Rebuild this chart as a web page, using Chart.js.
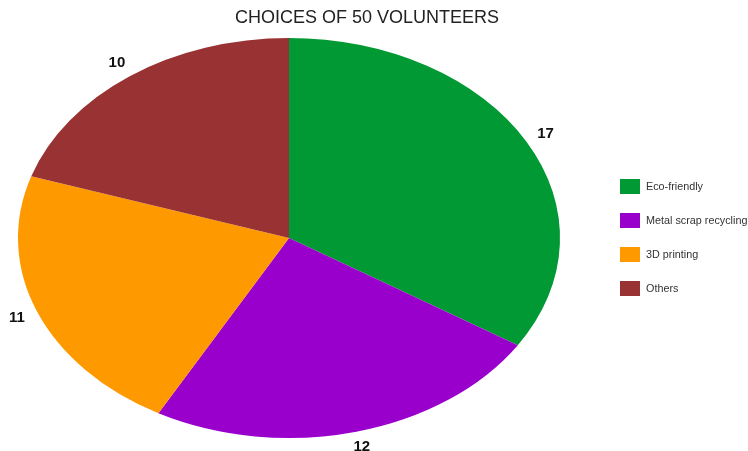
<!DOCTYPE html>
<html>
<head>
  <title>Choices of 50 Volunteers</title>
  <script src="https://cdn.jsdelivr.net/npm/chart.js"></script>
  <style>
    body { margin: 0; background: #fff; font-family: "Liberation Sans", Arial, sans-serif; }
    #wrap { position: relative; width: 748px; height: 451px; overflow: hidden; }
    #title { position: absolute; left: 0; width: 734px; top: 7px; text-align: center; font-size: 18px; color: #222; }
    #legend { position: absolute; left: 620px; top: 169px; font-size: 10.8px; color: #333; white-space: nowrap; }
    .row { display: flex; align-items: center; height: 34px; }
    .box { width: 20px; height: 15px; margin-right: 6px; flex: none; }
  </style>
</head>
<body>
  <div id="wrap">
    <canvas id="pie" width="748" height="451"></canvas>
    <div id="title">CHOICES OF 50 VOLUNTEERS</div>
    <div id="legend"></div>
  </div>

  <script>
    // data
    const categories = ['Eco-friendly', 'Metal scrap recycling', '3D printing', 'Others'];
    const counts = [17, 12, 11, 10];
    const sliceColors = ['#009933', '#9900cc', '#ff9900', '#993333'];

    // the original pie is stretched into an ellipse
    const stretchX = 1.355;

    const stretchPlugin = {
      id: 'stretch',
      beforeDatasetsDraw(chart) {
        const arc = chart.getDatasetMeta(0).data[0];
        const ctx = chart.ctx;
        ctx.save();
        ctx.translate(arc.x, arc.y);
        ctx.scale(stretchX, 1);
        ctx.translate(-arc.x, -arc.y);
      },
      afterDatasetsDraw(chart) {
        chart.ctx.restore();
      }
    };

    const valueLabels = {
      id: 'valueLabels',
      afterDatasetsDraw(chart) {
        const ctx = chart.ctx;
        ctx.save();
        ctx.font = 'bold 15px "Liberation Sans", Arial, sans-serif';
        ctx.fillStyle = '#111';
        ctx.textAlign = 'center';
        ctx.textBaseline = 'middle';
        chart.getDatasetMeta(0).data.forEach((arc, i) => {
          const mid = (arc.startAngle + arc.endAngle) / 2;
          const r = arc.outerRadius * 1.08;
          const x = arc.x + Math.cos(mid) * r * stretchX;
          const y = arc.y + Math.sin(mid) * r;
          ctx.fillText(String(counts[i]), x, y);
        });
        ctx.restore();
      }
    };

    new Chart(document.getElementById('pie'), {
      type: 'pie',
      data: {
        labels: categories,
        datasets: [{
          data: counts,
          backgroundColor: sliceColors,
          borderWidth: 0
        }]
      },
      options: {
        responsive: false,
        animation: false,
        layout: { padding: { left: 0, right: 170, top: 38, bottom: 13 } },
        plugins: {
          legend: { display: false },
          tooltip: { enabled: false }
        }
      },
      plugins: [stretchPlugin, valueLabels]
    });

    // legend built from the same arrays
    const legend = document.getElementById('legend');
    categories.forEach((name, i) => {
      const row = document.createElement('div');
      row.className = 'row';
      row.innerHTML = '<div class="box" style="background:' + sliceColors[i] + '"></div><span>' + name + '</span>';
      legend.appendChild(row);
    });
  </script>
</body>
</html>
